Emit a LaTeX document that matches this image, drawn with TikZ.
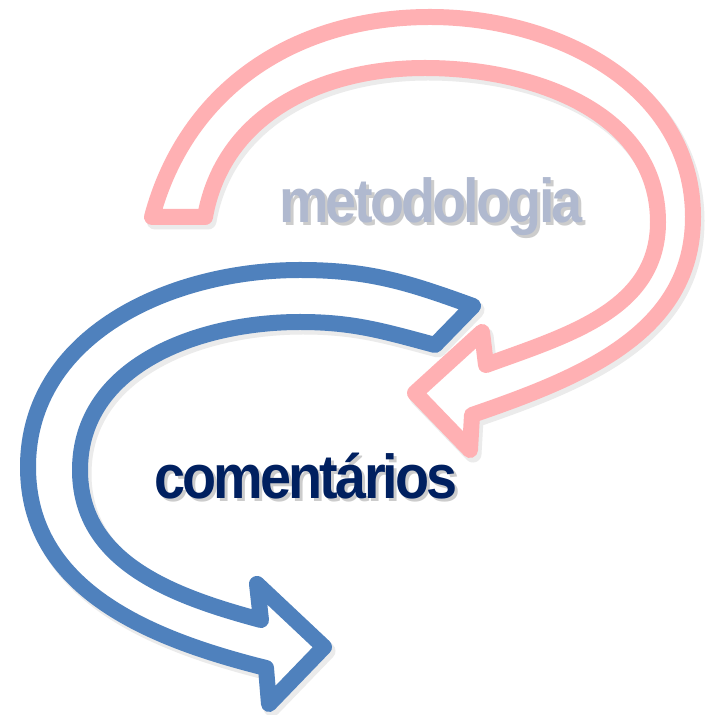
\documentclass[tikz,border=0pt]{standalone}
\usepackage{fontspec}
\setmainfont{Liberation Sans}
\newfontfamily\wordfont[FakeStretch=0.9,LetterSpace=-4.5]{Liberation Sans}
\definecolor{pinkline}{HTML}{FFB0B3}
\definecolor{blueline}{HTML}{4F81BD}
\definecolor{methtext}{HTML}{B0B9CF}
\definecolor{comtext}{HTML}{002060}
% outlines of the two curved arrows (y up, 1pt per pixel)
\newcommand{\pinkshape}{(152,498) to[out=75,in=180] (430,698) to[out=0,in=90] (693,498)
  to[out=-90,in=19] (472,300) -- (470,265) -- (415,322) -- (482,383) -- (486,350)
  to[out=20,in=-90] (658,493) to[out=90,in=0] (425,647) to[out=180,in=80] (205,498) -- cycle}
\newcommand{\blueshape}{(473,409) to[out=160,in=0] (300,445) to[out=180,in=90] (28,248)
  to[out=-90,in=166] (266,47) -- (269,11) -- (324,68) -- (257,131) -- (261,95)
  to[out=165,in=-90] (80,245) to[out=90,in=180] (300,393) to[out=0,in=165] (435,370) -- cycle}
% word with its soft drop shadow
\newcommand{\withshade}[1]{\rlap{\kern3pt\raisebox{-3pt}{\color{black!20}#1}}#1}

\begin{document}
\begin{tikzpicture}[
  x=1pt, y=1pt,
  bigarrow/.style={line width=16pt, line join=round, fill=white},
  shade/.style={line width=17pt, line join=round, draw=black!8},
  word/.style={font=\wordfont\bfseries\fontsize{62}{62}\selectfont, anchor=base, inner sep=0pt}
]
\useasboundingbox (0,0) rectangle (706,715);
\fill[white] (0,0) rectangle (706,715);

\draw[shade, shift={(3,-4)}] \pinkshape;
\draw[bigarrow, draw=pinkline] \pinkshape;
\draw[shade, shift={(3,-4)}] \blueshape;
\draw[bigarrow, draw=blueline] \blueshape;

\node[word, text=methtext] (met) at (431,492) {\withshade{metodologia}};
\node[word, text=comtext] (com) at (306,216) {\withshade{comentários}};
\end{tikzpicture}
\end{document}
